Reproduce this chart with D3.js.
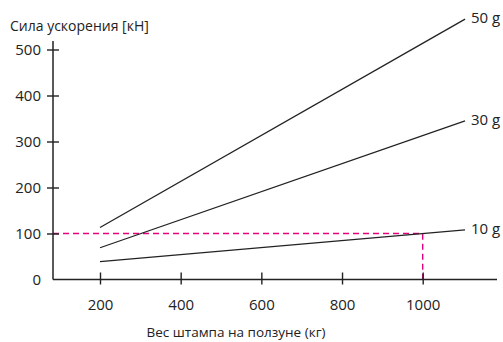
<!DOCTYPE html>
<html>
<head>
<meta charset="utf-8">
<script src="https://cdn.jsdelivr.net/npm/d3@7"></script>
<style>
  body { margin: 0; background: #fff; }
  svg text { font-family: "Open Sans", "Noto Sans", sans-serif; fill: #222; }
</style>
</head>
<body>
<div id="chart"></div>
<script>
// data
var seriesNames = ["50 g", "30 g", "10 g"];
var massStart = [200, 200, 200];
var massEnd = [1105, 1105, 1105];
var forceStart = [113, 69, 39];
var forceEnd = [566, 345, 108];
var xTicks = [200, 400, 600, 800, 1000];
var yTicks = [0, 100, 200, 300, 400, 500];
var markMass = 1000;
var markForce = 100;

var width = 503, height = 342;

var svg = d3.select("#chart")
    .append("svg")
    .attr("width", width)
    .attr("height", height);

var x = d3.scaleLinear().domain([200, 1000]).range([100, 422.7]);
var y = d3.scaleLinear().domain([0, 500]).range([279.5, 49.5]);

var axisX = 53;
var axisY = y(0);

// dashed marker for 10 g at 1000 kg
svg.append("path")
    .attr("d", "M" + axisX + "," + y(markForce) + "H" + x(markMass) + "V" + axisY)
    .attr("fill", "none")
    .attr("stroke", "#e5007e")
    .attr("stroke-width", 1.4)
    .attr("stroke-dasharray", "6,4");

// y axis
var yAxis = svg.append("g")
    .attr("transform", "translate(" + axisX + ",0)")
    .call(d3.axisLeft(y).tickValues(yTicks.slice(1)).tickFormat(d3.format("d"))
        .tickSize(0).tickPadding(12));
yAxis.select(".domain").remove();
yAxis.selectAll(".tick line").attr("x1", -6).attr("x2", 6)
    .attr("stroke", "#222").attr("stroke-width", 1.4);
yAxis.selectAll("text").style("font-size", "15px").attr("fill", "#222");
svg.append("line")
    .attr("x1", axisX).attr("x2", axisX)
    .attr("y1", 41).attr("y2", axisY)
    .attr("stroke", "#222").attr("stroke-width", 1.5);
svg.append("text")
    .attr("x", axisX - 12).attr("y", axisY + 1)
    .attr("text-anchor", "end")
    .attr("dominant-baseline", "middle")
    .style("font-size", "15px")
    .text(yTicks[0]);

// x axis
var xAxis = svg.append("g")
    .attr("transform", "translate(0," + axisY + ")")
    .call(d3.axisBottom(x).tickValues(xTicks).tickFormat(d3.format("d"))
        .tickSize(0).tickPadding(20));
xAxis.select(".domain").remove();
xAxis.selectAll(".tick line").attr("y1", -7).attr("y2", 5)
    .attr("stroke", "#222").attr("stroke-width", 1.4);
xAxis.selectAll("text").style("font-size", "15px").attr("fill", "#222");
svg.append("line")
    .attr("x1", axisX).attr("x2", 497)
    .attr("y1", axisY).attr("y2", axisY)
    .attr("stroke", "#222").attr("stroke-width", 1.5);

// titles
svg.append("text")
    .attr("x", 10).attr("y", 31)
    .style("font-size", "14px")
    .text("Сила ускорения [кН]");
svg.append("text")
    .attr("x", 236).attr("y", 337)
    .attr("text-anchor", "middle")
    .style("font-size", "13.5px")
    .text("Вес штампа на ползуне (кг)");

// g-force lines
seriesNames.forEach(function (name, i) {
    svg.append("line")
        .attr("x1", x(massStart[i])).attr("y1", y(forceStart[i]))
        .attr("x2", x(massEnd[i])).attr("y2", y(forceEnd[i]))
        .attr("stroke", "#222").attr("stroke-width", 1.3);
    svg.append("text")
        .attr("x", x(massEnd[i]) + 6).attr("y", y(forceEnd[i]))
        .attr("dominant-baseline", "middle")
        .style("font-size", "15px")
        .text(name);
});
</script>
</body>
</html>
